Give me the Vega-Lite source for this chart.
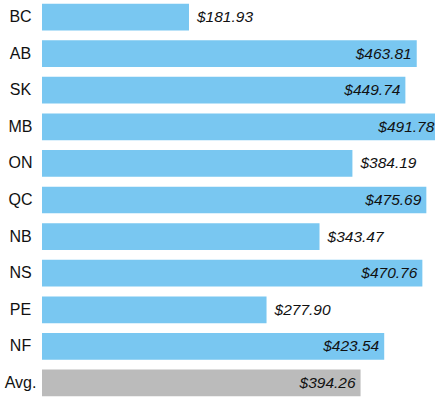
{
  "$schema": "https://vega.github.io/schema/vega-lite/v6.json",
  "width": 393,
  "height": 400,
  "autosize": {"type": "none"},
  "padding": {"left": 42, "top": 0, "right": 0, "bottom": 0},
  "background": "white",
  "config": {"view": {"stroke": null}},
  "data": {
    "values": [
      {"prov": "BC", "value": 181.93, "kind": "prov"},
      {"prov": "AB", "value": 463.81, "kind": "prov"},
      {"prov": "SK", "value": 449.74, "kind": "prov"},
      {"prov": "MB", "value": 491.78, "kind": "prov"},
      {"prov": "ON", "value": 384.19, "kind": "prov"},
      {"prov": "QC", "value": 475.69, "kind": "prov"},
      {"prov": "NB", "value": 343.47, "kind": "prov"},
      {"prov": "NS", "value": 470.76, "kind": "prov"},
      {"prov": "PE", "value": 277.90, "kind": "prov"},
      {"prov": "NF", "value": 423.54, "kind": "prov"},
      {"prov": "Avg.", "value": 394.26, "kind": "avg"}
    ]
  },
  "encoding": {
    "y": {
      "field": "prov",
      "type": "nominal",
      "sort": null,
      "scale": {"paddingInner": 0.27, "paddingOuter": 0.1},
      "axis": {
        "title": null,
        "domain": false,
        "ticks": false,
        "labelAlign": "center",
        "labelPadding": 22,
        "labelFontSize": 16,
        "labelFont": "Liberation Sans",
        "labelColor": "#111111"
      }
    },
    "x": {
      "field": "value",
      "type": "quantitative",
      "scale": {"domain": [0, 486.4]},
      "axis": null
    }
  },
  "layer": [
    {
      "mark": {"type": "bar", "clip": true},
      "encoding": {
        "color": {
          "field": "kind",
          "type": "nominal",
          "scale": {"domain": ["prov", "avg"], "range": ["#79C7F1", "#BBBBBB"]},
          "legend": null
        }
      }
    },
    {
      "transform": [{"filter": "datum.value >= 390"}],
      "mark": {"type": "text", "align": "right", "baseline": "middle", "dx": -5, "fontStyle": "italic", "fontSize": 15.5, "font": "Liberation Sans", "color": "#111111"},
      "encoding": {"text": {"field": "value", "type": "quantitative", "format": "$.2f"}}
    },
    {
      "transform": [{"filter": "datum.value < 390"}],
      "mark": {"type": "text", "align": "left", "baseline": "middle", "dx": 8, "fontStyle": "italic", "fontSize": 15.5, "font": "Liberation Sans", "color": "#111111"},
      "encoding": {"text": {"field": "value", "type": "quantitative", "format": "$.2f"}}
    }
  ]
}
